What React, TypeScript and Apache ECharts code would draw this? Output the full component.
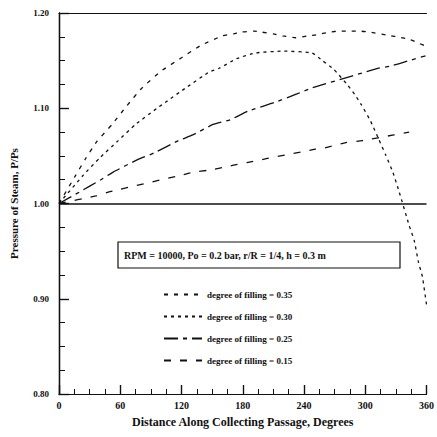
import React, { useEffect, useRef } from "react";
import * as echarts from "echarts";

const xTicks = [0, 60, 120, 180, 240, 300, 360];
const yTicks = [0.8, 0.9, 1.0, 1.1, 1.2];
const seriesNames = [
  "degree of filling = 0.35",
  "degree of filling = 0.30",
  "degree of filling = 0.25",
  "degree of filling = 0.15",
];
const fill35: [number, number][] = [
  [0, 1.0], [16, 1.029], [26, 1.047], [37, 1.065], [52, 1.083], [66, 1.102],
  [81, 1.121], [100, 1.139], [120, 1.153], [139, 1.166], [160, 1.176],
  [171, 1.178], [179, 1.18], [191, 1.181], [198, 1.18], [210, 1.178],
  [219, 1.176], [232, 1.174], [244, 1.176], [252, 1.177], [265, 1.18],
  [275, 1.181], [284, 1.181], [294, 1.181], [304, 1.18], [325, 1.176],
  [332, 1.175], [344, 1.172], [353, 1.168], [360, 1.165],
];
const fill30: [number, number][] = [
  [0, 1.0], [24, 1.03], [40, 1.048], [58, 1.066], [75, 1.083], [96, 1.1],
  [104, 1.106], [125, 1.122], [147, 1.138], [157, 1.142], [174, 1.152],
  [192, 1.158], [220, 1.16], [248, 1.158], [258, 1.15], [269, 1.141],
  [283, 1.124], [290, 1.114], [296, 1.104], [305, 1.087], [313, 1.068],
  [320, 1.051], [327, 1.033], [333, 1.013], [343, 0.977], [348, 0.961],
  [352, 0.939], [356, 0.923], [360, 0.894],
];
const fill25: [number, number][] = [
  [0, 1.0], [20, 1.012], [41, 1.025], [53, 1.033], [77, 1.046], [93, 1.053],
  [117, 1.066], [131, 1.072], [151, 1.083], [168, 1.088], [185, 1.097],
  [211, 1.106], [233, 1.115], [247, 1.121], [259, 1.125], [313, 1.142],
  [324, 1.144], [343, 1.15], [359, 1.155],
];
const fill15: [number, number][] = [
  [0, 1.0], [36, 1.008], [52, 1.013], [125, 1.031], [131, 1.033],
  [147, 1.035], [170, 1.04], [184, 1.043], [203, 1.047], [251, 1.057],
  [259, 1.058], [281, 1.064], [297, 1.066], [328, 1.072], [343, 1.075],
];
const lineTypes: (number[])[] = [[4, 6], [3, 4], [14, 5, 4, 5], [7, 9]];
const boxText = "RPM = 10000, Po = 0.2 bar, r/R = 1/4, h = 0.3 m";

const FONT = "Liberation Serif";
const INK = "#111";

export default function App() {
  const ref = useRef<HTMLDivElement>(null);
  useEffect(() => {
    document.body.style.margin = "0";
    const chart = echarts.init(ref.current!, undefined, { renderer: "svg" });
    const datas = [fill35, fill30, fill25, fill15];
    const frameAxis = {
      show: true,
      axisLine: { show: true, lineStyle: { color: INK, width: 1.2 } },
      axisTick: { show: false },
      minorTick: { show: false },
      axisLabel: { show: false },
      splitLine: { show: false },
    };
    const tickAxis = (len: number) => ({
      show: true,
      axisLine: { show: true, lineStyle: { color: INK, width: 1.2 } },
      axisTick: { show: true, inside: true, length: len, lineStyle: { color: INK, width: 1.2 } },
      minorTick: { show: true, splitNumber: 4, length: Math.round(len / 2), lineStyle: { color: INK, width: 1 } },
      axisLabel: { show: false },
      splitLine: { show: false },
    });
    chart.setOption({
      animation: false,
      grid: { left: 55, right: 6, top: 13, bottom: 43 },
      xAxis: [
        {
          type: "value",
          min: 0,
          max: 360,
          interval: 60,
          name: "Distance Along Collecting Passage, Degrees",
          nameLocation: "middle",
          nameGap: 22,
          nameTextStyle: { fontFamily: FONT, fontSize: 12, fontWeight: "bold", color: INK },
          axisLine: { show: true, lineStyle: { color: INK, width: 1.2 } },
          axisTick: { show: true, inside: true, length: 9, lineStyle: { color: INK, width: 1.2 } },
          minorTick: { show: true, splitNumber: 4, length: 5, lineStyle: { color: INK, width: 1 } },
          splitLine: { show: false },
          axisLabel: {
            fontFamily: FONT, fontSize: 10, fontWeight: "bold", color: INK, margin: 6,
            formatter: (v: number) => (xTicks.includes(v) ? String(v) : ""),
          },
        },
        { type: "value", position: "top", min: 0, max: 360, interval: 60, ...frameAxis },
        { type: "value", position: "bottom", min: 0, max: 360, interval: 60, ...tickAxis(9) },
      ],
      yAxis: [
        {
          type: "value",
          min: 0.8,
          max: 1.2,
          interval: 0.1,
          name: "Pressure of Steam, P/Ps",
          nameLocation: "middle",
          nameGap: 40,
          nameTextStyle: { fontFamily: FONT, fontSize: 11, fontWeight: "bold", color: INK },
          axisLine: { show: true, lineStyle: { color: INK, width: 1.2 } },
          axisTick: { show: true, inside: true, length: 10, lineStyle: { color: INK, width: 1.2 } },
          minorTick: { show: true, splitNumber: 4, length: 6, lineStyle: { color: INK, width: 1 } },
          splitLine: { show: false },
          axisLabel: {
            fontFamily: FONT, fontSize: 9, fontWeight: "bold", color: INK, margin: 10,
            formatter: (v: number) => (yTicks.some((t) => Math.abs(t - v) < 1e-6) ? v.toFixed(2) : ""),
          },
        },
        { type: "value", position: "right", min: 0.8, max: 1.2, interval: 0.1, ...frameAxis },
        { type: "value", position: "left", min: 0.8, max: 1.2, interval: 0.1, ...tickAxis(10) },
      ],
      legend: {
        orient: "vertical",
        left: 158,
        top: 285,
        itemWidth: 38,
        itemHeight: 10,
        itemGap: 13,
        itemStyle: { opacity: 0 },
        textStyle: { fontFamily: FONT, fontSize: 9, fontWeight: "bold", color: INK },
        data: seriesNames,
      },
      graphic: [
        {
          type: "rect",
          shape: { x: 118, y: 242, width: 282, height: 26 },
          style: { fill: "transparent", stroke: INK, lineWidth: 1.2 },
        },
        {
          type: "text",
          x: 124,
          y: 255,
          style: {
            text: boxText, fontFamily: FONT, fontSize: 10, fontWeight: "bold",
            fill: INK, verticalAlign: "middle",
          },
        },
      ],
      series: datas.map((d, i) => ({
        name: seriesNames[i],
        type: "line",
        xAxisIndex: 0,
        yAxisIndex: 0,
        data: d,
        showSymbol: false,
        symbol: "none",
        smooth: 0.15,
        lineStyle: { color: INK, width: 1.3, type: lineTypes[i] },
        itemStyle: { color: INK },
        markLine: i === 0 ? {
          silent: true,
          symbol: "none",
          label: { show: false },
          lineStyle: { color: INK, width: 1.5, type: "solid" },
          data: [{ yAxis: 1.0 }],
        } : undefined,
      })),
    });
    return () => chart.dispose();
  }, []);
  return <div ref={ref} style={{ width: 437, height: 437 }} />;
}
